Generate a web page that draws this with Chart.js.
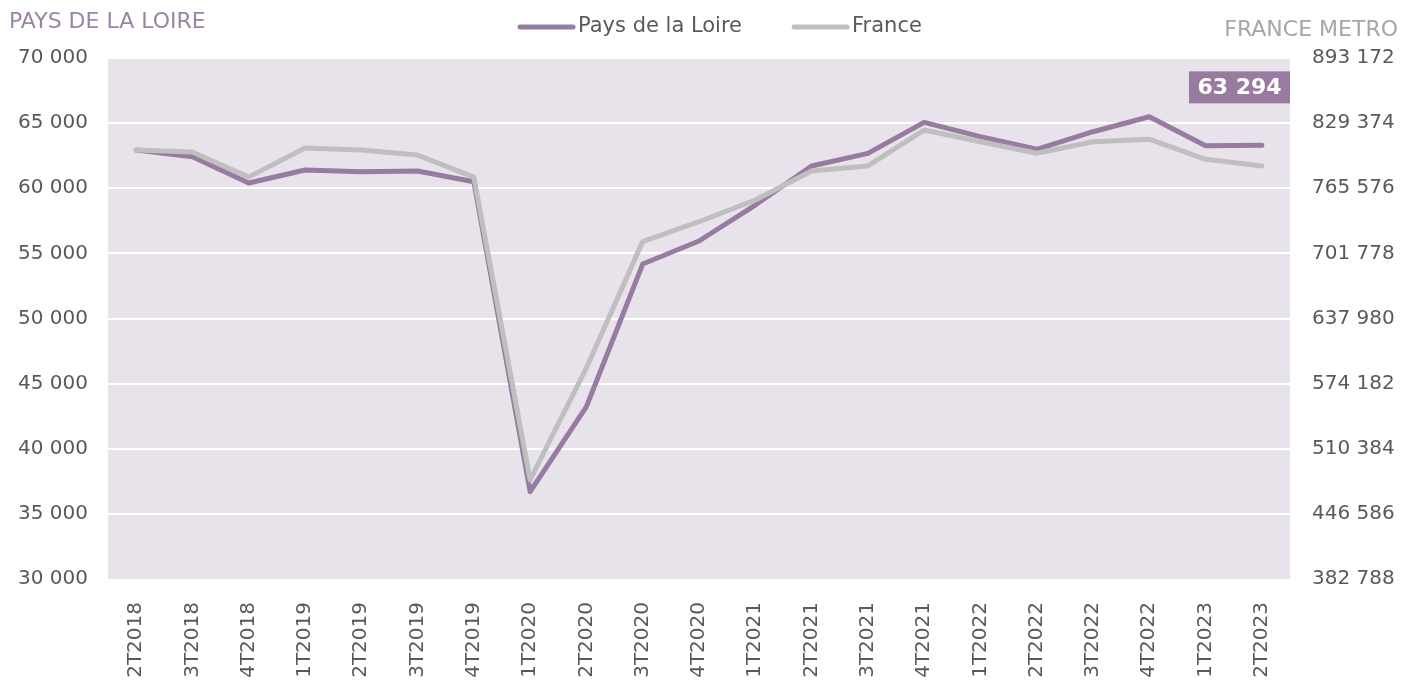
<!DOCTYPE html>
<html lang="fr">
<head>
<meta charset="utf-8">
<title>Pays de la Loire / France</title>
<script src="https://cdn.jsdelivr.net/npm/chart.js@4.4.1/dist/chart.umd.min.js"></script>
<style>
  html, body { margin: 0; padding: 0; background: #ffffff; }
  #wrap { width: 1402px; height: 684px; }
</style>
</head>
<body>
<div id="wrap"><canvas id="chart" width="1402" height="684"></canvas></div>
<script>
// Trimestres (axe des x)
const quarters = [
  '2T2018', '3T2018', '4T2018', '1T2019', '2T2019', '3T2019', '4T2019',
  '1T2020', '2T2020', '3T2020', '4T2020', '1T2021', '2T2021', '3T2021',
  '4T2021', '1T2022', '2T2022', '3T2022', '4T2022', '1T2023', '2T2023'
];

// Pays de la Loire (axe de gauche)
const paysDeLaLoire = [
  62940, 62420, 60400, 61400, 61270, 61320, 60500,
  36700, 43230, 54180, 55950, 58710, 61710, 62680,
  65060, 63960, 62990, 64340, 65490, 63260, 63294
];

// France métropolitaine (axe de droite)
const franceMetro = [
  803100, 801000, 776500, 805000, 803100, 798100, 776500,
  479800, 589500, 713300, 732800, 754100, 782400, 787400,
  822600, 811100, 799800, 811100, 813600, 793900, 787400
];

// Graduations des deux axes
const leftTicks = [30000, 35000, 40000, 45000, 50000, 55000, 60000, 65000, 70000];
const rightTicks = [382788, 446586, 510384, 574182, 637980, 701778, 765576, 829374, 893172];

const PURPLE = '#977ba0';
const GREY = '#bfbfbf';
const TEXT = '#595959';
const FONT = '"DejaVu Sans", Verdana, sans-serif';

// Séparateur de milliers à l'espace, comme dans l'original
function fmt(v) {
  return String(Math.round(v)).replace(/\B(?=(\d{3})+(?!\d))/g, ' ');
}

// Fond mauve de la zone de tracé
const plotBackground = {
  id: 'plotBackground',
  beforeDraw(chart) {
    const { ctx, chartArea: a } = chart;
    ctx.save();
    ctx.fillStyle = '#e8e3eb';
    ctx.fillRect(a.left, a.top, a.right - a.left, a.bottom - a.top);
    ctx.restore();
  }
};

// Titres des axes, légende et étiquette de la dernière valeur
const decorations = {
  id: 'decorations',
  afterDraw(chart) {
    const { ctx, chartArea: a } = chart;
    ctx.save();
    ctx.textBaseline = 'middle';

    // titres en haut à gauche / à droite
    ctx.font = '22px ' + FONT;
    ctx.fillStyle = '#9c84a6';
    ctx.textAlign = 'left';
    ctx.fillText('PAYS DE LA LOIRE', 9, 22);
    ctx.fillStyle = '#a6a6a6';
    ctx.textAlign = 'right';
    ctx.fillText('FRANCE METRO', 1398, 30);

    // légende
    const items = chart.data.datasets.map(ds => ({ label: ds.label, color: ds.borderColor }));
    const lineLen = 57;
    const gap = 3;
    const itemGap = 50;
    ctx.font = '21px ' + FONT;
    items.forEach(it => { it.w = ctx.measureText(it.label).width; });
    let x = 518;
    const y = 27;
    ctx.textAlign = 'left';
    items.forEach(it => {
      ctx.strokeStyle = it.color;
      ctx.lineWidth = 5;
      ctx.lineCap = 'round';
      ctx.beginPath();
      ctx.moveTo(x + 2, y);
      ctx.lineTo(x + lineLen - 2, y);
      ctx.stroke();
      ctx.fillStyle = TEXT;
      ctx.fillText(it.label, x + lineLen + gap, y);
      x += lineLen + gap + it.w + itemGap;
    });

    // étiquette de la dernière valeur des Pays de la Loire
    const meta = chart.getDatasetMeta(0);
    const last = meta.data[meta.data.length - 1];
    const txt = fmt(paysDeLaLoire[paysDeLaLoire.length - 1]);
    ctx.font = 'bold 22px ' + FONT;
    const bw = 101, bh = 32;
    const bx = a.right - bw;
    const by = last.y - 74;
    ctx.fillStyle = PURPLE;
    ctx.fillRect(bx, by, bw, bh);
    ctx.fillStyle = '#ffffff';
    ctx.textAlign = 'center';
    ctx.fillText(txt, bx + bw / 2, by + bh / 2 + 1);
    ctx.restore();
  }
};

new Chart(document.getElementById('chart').getContext('2d'), {
  type: 'line',
  data: {
    labels: quarters,
    datasets: [
      {
        label: 'Pays de la Loire',
        data: paysDeLaLoire,
        yAxisID: 'y',
        borderColor: PURPLE,
        backgroundColor: PURPLE,
        order: 1
      },
      {
        label: 'France',
        data: franceMetro,
        yAxisID: 'y1',
        borderColor: GREY,
        backgroundColor: GREY,
        order: 0
      }
    ]
  },
  options: {
    responsive: false,
    animation: false,
    layout: { padding: { top: 58, left: 0, right: 0, bottom: 0 } },
    elements: {
      line: { borderWidth: 5, tension: 0, borderCapStyle: 'round', borderJoinStyle: 'round' },
      point: { radius: 0, hoverRadius: 0 }
    },
    plugins: {
      legend: { display: false },
      tooltip: { enabled: false }
    },
    scales: {
      x: {
        offset: true,
        grid: { display: false, drawTicks: false },
        border: { display: false },
        ticks: {
          color: TEXT,
          font: { family: FONT, size: 20 },
          minRotation: 90,
          maxRotation: 90,
          autoSkip: false,
          padding: 23
        },
        afterFit(scale) { scale.height = 105; }
      },
      y: {
        position: 'left',
        min: leftTicks[0],
        max: leftTicks[leftTicks.length - 1],
        afterBuildTicks(scale) { scale.ticks = leftTicks.map(v => ({ value: v })); },
        grid: {
          color: ctx => ctx.tick && ctx.tick.value === leftTicks[0] ? 'rgba(0,0,0,0)' : '#ffffff',
          lineWidth: 2,
          drawTicks: false
        },
        border: { display: false },
        ticks: {
          color: TEXT,
          font: { family: FONT, size: 20 },
          padding: 20,
          callback: v => fmt(v)
        },
        afterFit(scale) { scale.width = 108; }
      },
      y1: {
        position: 'right',
        min: rightTicks[0],
        max: rightTicks[rightTicks.length - 1],
        afterBuildTicks(scale) { scale.ticks = rightTicks.map(v => ({ value: v })); },
        grid: { display: false, drawTicks: false },
        border: { display: false },
        ticks: {
          color: TEXT,
          font: { family: FONT, size: 20 },
          padding: 22,
          callback: v => fmt(v)
        },
        afterFit(scale) { scale.width = 112; }
      }
    }
  },
  plugins: [plotBackground, decorations]
});
</script>
</body>
</html>
